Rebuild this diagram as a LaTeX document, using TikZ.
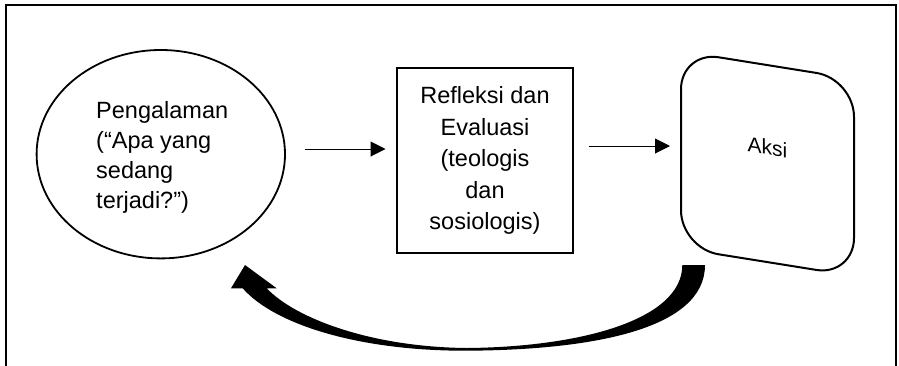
\documentclass[tikz,border=0pt]{standalone}
\usepackage{fontspec}
\setmainfont{Liberation Sans}
\usetikzlibrary{arrows.meta,shapes.geometric}

\tikzset{
  bodytext/.style={font=\fontsize{23.5}{30}\selectfont},
  thinarrow/.style={line width=1pt,-{Triangle[length=15pt,width=15pt]}},
  stage/.style={draw,line width=2pt,inner sep=0pt},
}

\begin{document}
\begin{tikzpicture}[x=1pt,y=-1pt]
\useasboundingbox (0,0) rectangle (899,365);

% open frame (no bottom edge)
\draw[line width=2.3pt] (6,367) -- (6,5.2) -- (896,5.2) -- (896,367);

% experience
\node[stage,ellipse,line width=1.8pt,minimum width=248.4pt,minimum height=208.4pt] (exp) at (160.8,154.2) {};
% multi-line nodes: the base anchor sits on the last line
\node[bodytext,align=left,anchor=base west] (exptext) at (92.7,208.3)
  {Pengalaman\\(“Apa yang\\sedang\\terjadi?”)};

% reflection and evaluation
\node[stage,rectangle,line width=2.4pt,minimum width=176pt,minimum height=185pt] (refl) at (485,160.5) {};
\node[font=\fontsize{23.5}{31.5}\selectfont,align=center,anchor=base] (refltext) at (485,229.5)
  {Refleksi dan\\Evaluasi\\(teologis\\dan\\sosiologis)};

% action (sheared rounded box, label sheared with it)
\begin{scope}[shift={(767.5,163.6)},yslant=-0.16,transform shape]
  \node[stage,rectangle,rounded corners=38pt,minimum width=173pt,minimum height=197pt] (aksi) at (0,0) {};
  \node[font=\fontsize{21}{25}\selectfont,anchor=base] (aksitext) at (0,-9) {Aksi};
\end{scope}

% forward arrows
\path ([xshift=19pt,yshift=5.2pt]exp.east) coordinate (a1);
\draw[thinarrow,shorten >=10.3pt] (a1) -- (refl.west |- a1);
\path ([xshift=14.3pt,yshift=14.5pt]refl.east) coordinate (a2);
\draw[thinarrow,shorten >=10pt] (a2) -- (aksi.west |- a2);

% curved feedback arrow back to the experience
\coordinate (fbin) at (682.3,265);
\coordinate (fbout) at (705,265);
\coordinate (fbtip) at (245,265);
\fill (fbin) -- (fbout)
  .. controls (705,330) and (590,350) .. (466.7,350.7)
  .. controls (360,351) and (275,325) .. (242.7,288.3)
  -- (231,288.3) -- (fbtip) -- (276.7,288.3) -- (266.7,288.3)
  .. controls (295,318) and (370,347) .. (466.7,348)
  .. controls (580,347) and (682.3,320) .. (fbin) -- cycle;
\end{tikzpicture}
\end{document}
